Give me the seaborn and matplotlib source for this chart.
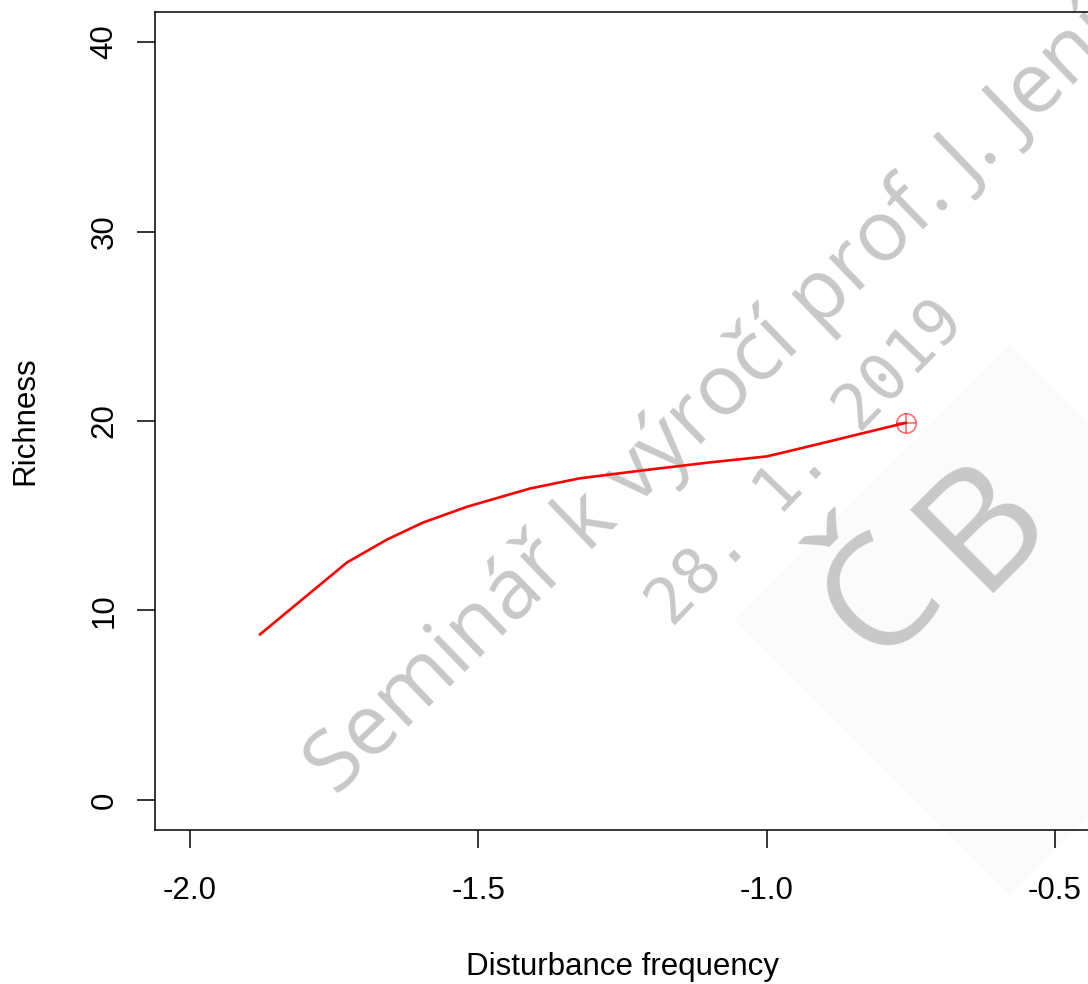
import numpy as np
import pandas as pd
import seaborn as sns
import matplotlib.pyplot as plt
from matplotlib.patches import Polygon

# smoothed richness curve
disturbance = [-1.879, -1.813, -1.728, -1.658, -1.596, -1.518, -1.410, -1.325,
               -1.216, -1.100, -1.000, -0.960, -0.908, -0.830, -0.758]
richness = [8.73, 10.39, 12.53, 13.75, 14.64, 15.49, 16.44, 16.97,
            17.39, 17.81, 18.13, 18.42, 18.80, 19.38, 19.91]

x_ticks = [-2.0, -1.5, -1.0, -0.5]
y_ticks = [0, 10, 20, 30, 40]
x_ticklabels = ['-2.0', '-1.5', '-1.0', '-0.5']
y_ticklabels = ['0', '10', '20', '30', '40']

curve = pd.DataFrame({'Disturbance frequency': disturbance, 'Richness': richness})

sns.set_theme(style='white')
plt.rcParams['font.family'] = ['Liberation Sans', 'DejaVu Sans']

W, H = 1088, 984
fig = plt.figure(figsize=(W / 100, H / 100), dpi=100)
ax = fig.add_axes([155.4 / W, 1 - 830.3 / H, 934.2 / W, 818.6 / H])
ax.set_facecolor('none')

# faint watermark background and texts (figure pixels)
def fp(px, py):
    return (px / W, 1 - py / H)

diamond = Polygon([fp(735, 620), fp(1010, 345), fp(1285, 620), fp(1010, 895)],
                  closed=True, transform=fig.transFigure, facecolor='#fbfbfb',
                  edgecolor='none', zorder=-3, joinstyle='round')
fig.patches.append(diamond)

wm = '#c8c8c8'
fig.text(*fp(336, 797), 'Seminář k výročí prof. J. Jeníka', rotation=44,
         rotation_mode='anchor', ha='left', va='baseline', fontsize=61,
         family=['Open Sans', 'DejaVu Sans'], color=wm, zorder=-2)
fig.text(*fp(672, 628), '28. 1. 2019', rotation=46, rotation_mode='anchor',
         ha='left', va='baseline', fontsize=46, family=['DejaVu Sans Mono'],
         color=wm, zorder=-2)
fig.text(*fp(882, 600), 'Č', rotation=45, rotation_mode='anchor',
         ha='center', va='center', fontsize=112,
         family=['Open Sans', 'DejaVu Sans'], color=wm, zorder=-2)
fig.text(*fp(985, 525), 'B', rotation=45, rotation_mode='anchor',
         ha='center', va='center', fontsize=118,
         family=['Open Sans', 'DejaVu Sans'], color=wm, zorder=-2)

sns.lineplot(data=curve, x='Disturbance frequency', y='Richness', sort=False,
             color='red', linewidth=1.9, ax=ax)
end = curve.iloc[[-1]]
ax.plot(end['Disturbance frequency'], end['Richness'], marker='o', ms=14,
        mfc='none', mec=(1, 0, 0, 0.6), mew=1.1, ls='none')
ax.plot(end['Disturbance frequency'], end['Richness'], marker='+', ms=14,
        mec=(1, 0, 0, 0.6), mew=1.1, ls='none')

ax.set_xlim(-2.06, -0.44)
ax.set_ylim(-1.6, 41.6)
ax.set_xticks(x_ticks)
ax.set_xticklabels(x_ticklabels)
ax.set_yticks(y_ticks)
ax.set_yticklabels(y_ticklabels, rotation=90, va='center')

for s in ax.spines.values():
    s.set_visible(True)
    s.set_color('black')
    s.set_linewidth(1.1)

ax.tick_params(axis='both', direction='out', length=13, width=1.1,
               color='black', labelsize=22.5, labelcolor='black')
ax.tick_params(axis='x', pad=20, bottom=True)
ax.tick_params(axis='y', pad=13, left=True)

ax.set_xlabel('Disturbance frequency', fontsize=22.5, color='black')
ax.set_ylabel('Richness', fontsize=22.5, color='black')
ax.xaxis.set_label_coords(0.5, -0.149)
ax.yaxis.set_label_coords(-0.1235, 0.5)

fig.savefig('out.png', dpi=100)
